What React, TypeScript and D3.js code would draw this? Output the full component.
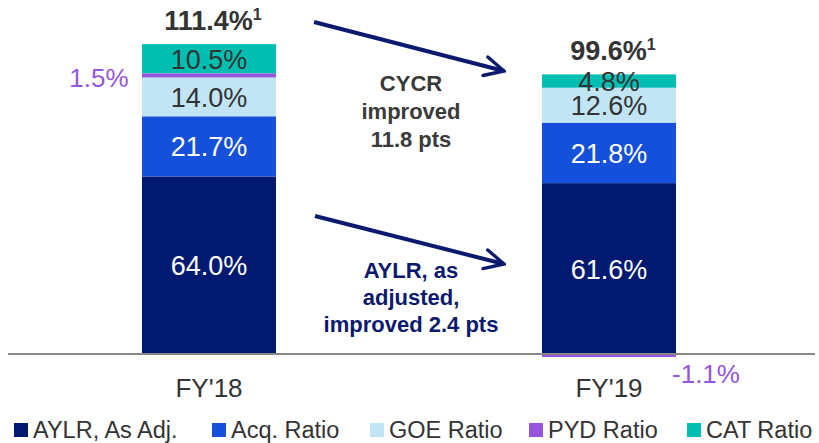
import { useEffect, useRef } from 'react'
import * as d3 from 'd3'

const categories = ["FY'18", "FY'19"]
const seriesNames = ['AYLR, As Adj.', 'Acq. Ratio', 'GOE Ratio', 'PYD Ratio', 'CAT Ratio']
const aylr = [64.0, 61.6]
const acq = [21.7, 21.8]
const goe = [14.0, 12.6]
const pyd = [1.5, -1.1]
const cat = [10.5, 4.8]
const totals = ['111.4%', '99.6%']
const colors = ['#001a72', '#1450d9', '#c2e5f6', '#9556dc', '#00bfb2']
const labelFill = ['#ffffff', '#ffffff', '#333333', '#9556dc', '#333333']

export default function App() {
  const ref = useRef<SVGSVGElement>(null)

  useEffect(() => {
    const svg = d3.select(ref.current)
    svg.selectAll('*').remove()

    const font = 'Liberation Sans, Arial, sans-serif'
    const rows = categories.map((c, i) => ({
      cat: c, 'AYLR, As Adj.': aylr[i], 'Acq. Ratio': acq[i], 'GOE Ratio': goe[i],
      'PYD Ratio': pyd[i], 'CAT Ratio': cat[i]
    }))

    const x = d3.scaleBand().domain(categories).range([9, 809])
      .paddingInner(0.665).paddingOuter(0.3325)
    const y = d3.scaleLinear().domain([0, 111.4]).range([354, 45])

    const stacked = d3.stack<any>().keys(seriesNames)
      .offset(d3.stackOffsetDiverging)(rows)

    stacked.forEach((s, si) => {
      svg.append('g').selectAll('rect').data(s).enter().append('rect')
        .attr('x', (d: any) => x(d.data.cat)!)
        .attr('width', x.bandwidth())
        .attr('y', (d: any) => y(Math.max(d[0], d[1])))
        .attr('height', (d: any) => Math.abs(y(d[0]) - y(d[1])))
        .attr('fill', colors[si])

      if (seriesNames[si] === 'PYD Ratio') {
        // PYD labels sit outside the bars
        svg.append('g').selectAll('text').data(s).enter().append('text')
          .attr('x', (d: any) => d.data['PYD Ratio'] > 0 ? x(d.data.cat)! - 43 : x(d.data.cat)! + x.bandwidth() + 30)
          .attr('y', (d: any) => d.data['PYD Ratio'] > 0 ? y(d[1]) + 14 : y(0) + 29)
          .attr('text-anchor', 'middle')
          .style('font-family', font).style('font-size', '26px')
          .attr('fill', labelFill[si])
          .text((d: any) => d.data['PYD Ratio'].toFixed(1) + '%')
        return
      }
      svg.append('g').selectAll('text').data(s).enter().append('text')
        .attr('x', (d: any) => x(d.data.cat)! + x.bandwidth() / 2)
        .attr('y', (d: any) => (y(d[0]) + y(d[1])) / 2 + 10)
        .attr('text-anchor', 'middle')
        .style('font-family', font).style('font-size', '27px')
        .attr('fill', labelFill[si])
        .text((d: any) => (d[1] - d[0]).toFixed(1) + '%')
    })

    // baseline
    svg.append('line').attr('x1', 8).attr('x2', 815)
      .attr('y1', y(0)).attr('y2', y(0))
      .attr('stroke', '#888888').attr('stroke-width', 2)

    // totals
    const tops = stacked[stacked.length - 1]
    tops.forEach((d: any, i) => {
      const t = svg.append('text')
        .attr('x', x(d.data.cat)! + x.bandwidth() / 2 + 4)
        .attr('y', y(d[1]) - 14)
        .attr('text-anchor', 'middle')
        .style('font-family', font).style('font-weight', 'bold')
        .style('font-size', '27px').attr('fill', '#333333')
      t.append('tspan').text(totals[i])
      t.append('tspan').attr('dy', -10).style('font-size', '16px').text('1')
    })

    // category labels
    categories.forEach(c => {
      svg.append('text')
        .attr('x', x(c)! + x.bandwidth() / 2)
        .attr('y', 397)
        .attr('text-anchor', 'middle')
        .style('font-family', font).style('font-size', '26px')
        .attr('fill', '#333333')
        .text(c)
    })

    // arrows
    const defs = svg.append('defs')
    defs.append('marker').attr('id', 'arr').attr('viewBox', '0 0 10 10')
      .attr('refX', 9).attr('refY', 5).attr('markerWidth', 6).attr('markerHeight', 6)
      .attr('markerUnits', 'strokeWidth').attr('orient', 'auto')
      .append('path').attr('d', 'M1,1 L9,5 L1,9').attr('fill', 'none')
      .attr('stroke', '#0b1a6e').attr('stroke-width', 1.4).attr('stroke-linecap', 'round')
    const arrows = [[314, 22, 504, 71], [315, 216, 504, 264]]
    arrows.forEach(a => {
      svg.append('line').attr('x1', a[0]).attr('y1', a[1]).attr('x2', a[2]).attr('y2', a[3])
        .attr('stroke', '#0b1a6e').attr('stroke-width', 4).attr('marker-end', 'url(#arr)')
    })

    const note = (lines: string[], y0: number, step: number, fill: string) => {
      lines.forEach((l, i) => {
        svg.append('text').attr('x', 411).attr('y', y0 + i * step)
          .attr('text-anchor', 'middle')
          .style('font-family', font).style('font-weight', 'bold').style('font-size', '22px')
          .attr('fill', fill).text(l)
      })
    }
    note(['CYCR', 'improved', '11.8 pts'], 91, 28, '#3a3a3a')
    note(['AYLR, as', 'adjusted,', 'improved 2.4 pts'], 278, 27, '#0b1a6e')

    // legend
    const legX = [14, 212, 370, 529, 687]
    seriesNames.forEach((n, i) => {
      svg.append('rect').attr('x', legX[i]).attr('y', 423).attr('width', 14).attr('height', 14)
        .attr('fill', colors[i])
      svg.append('text').attr('x', legX[i] + 19).attr('y', 438)
        .style('font-family', font).style('font-size', '23.5px')
        .attr('fill', '#333333').text(n)
    })
  }, [])

  return (
    <svg ref={ref} width={819} height={443}
      style={{ position: 'absolute', left: 0, top: 0, background: '#fff' }} />
  )
}
